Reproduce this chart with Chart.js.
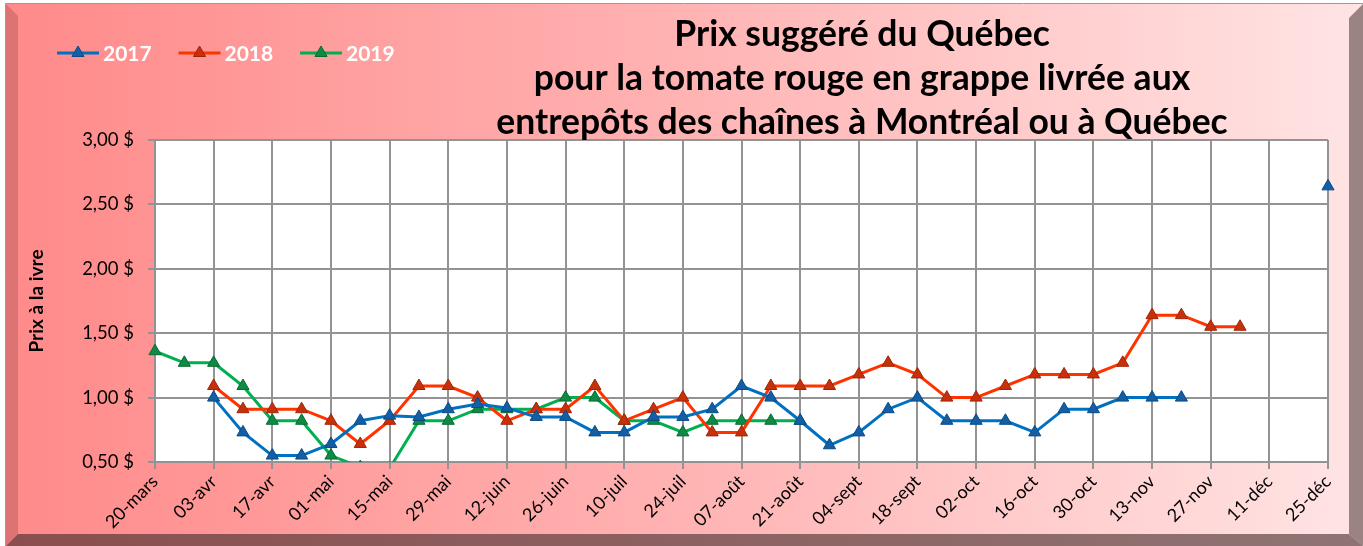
<!DOCTYPE html>
<html lang="fr">
<head>
<meta charset="utf-8">
<title>Prix suggéré du Québec</title>
<script src="https://cdn.jsdelivr.net/npm/chart.js@4.4.1/dist/chart.umd.min.js"></script>
<style>
  html, body { margin: 0; padding: 0; background: #fff; }
  canvas { display: block; }
</style>
</head>
<body>
<canvas id="prixTomate" width="1363" height="546"></canvas>
<script>
// semaines (une étiquette sur deux est affichée sur l'axe)
var semaines = ["20-mars", "27-mars", "03-avr", "10-avr", "17-avr", "24-avr", "01-mai", "08-mai",
  "15-mai", "22-mai", "29-mai", "05-juin", "12-juin", "19-juin", "26-juin", "03-juil", "10-juil",
  "17-juil", "24-juil", "31-juil", "07-août", "14-août", "21-août", "28-août", "04-sept", "11-sept",
  "18-sept", "25-sept", "02-oct", "09-oct", "16-oct", "23-oct", "30-oct", "06-nov", "13-nov",
  "20-nov", "27-nov", "04-déc", "11-déc", "18-déc", "25-déc"];

var prix2017 = [null, null, 1.00, 0.73, 0.55, 0.55, 0.64, 0.82, 0.86, 0.85, 0.91, 0.95, 0.92,
  0.85, 0.85, 0.73, 0.73, 0.85, 0.85, 0.91, 1.09, 1.00, 0.82, 0.63, 0.73, 0.91, 1.00, 0.82,
  0.82, 0.82, 0.73, 0.91, 0.91, 1.00, 1.00, 1.00, null, null, null, null, 2.64];

var prix2018 = [null, null, 1.09, 0.91, 0.91, 0.91, 0.82, 0.64, 0.82, 1.09, 1.09, 1.00, 0.82,
  0.91, 0.91, 1.09, 0.82, 0.91, 1.00, 0.73, 0.73, 1.09, 1.09, 1.09, 1.18, 1.27, 1.18, 1.00,
  1.00, 1.09, 1.18, 1.18, 1.18, 1.27, 1.64, 1.64, 1.55, 1.55, null, null, null];

var prix2019 = [1.36, 1.27, 1.27, 1.09, 0.82, 0.82, 0.55, 0.46, 0.45, 0.82, 0.82, 0.91, 0.91,
  0.91, 1.00, 1.00, 0.82, 0.82, 0.73, 0.82, 0.82, 0.82, 0.82, null, null, null, null, null,
  null, null, null, null, null, null, null, null, null, null, null, null, null];

var annees = ["2017", "2018", "2019"];
var couleursLigne = ["#0070c0", "#ff3300", "#00b050"];
var couleursPoint = ["#135ea5", "#c8300c", "#0f8a44"];
var couleursBord = ["#0b4a85", "#9e2606", "#0a6a33"];

var titreLignes = ["Prix suggéré du Québec",
  "pour la tomate rouge en grappe livrée aux",
  "entrepôts des chaînes à Montréal ou à Québec"];
var titreAxeY = "Prix à la ivre";

var police = "Lato, 'Open Sans', sans-serif";
var gris = "#939393";

function serie(i, valeurs) {
  return {
    label: annees[i],
    data: valeurs,
    borderColor: couleursLigne[i],
    backgroundColor: couleursPoint[i],
    borderWidth: 3,
    pointStyle: "triangle",
    pointRadius: 7,
    pointHoverRadius: 7,
    pointBackgroundColor: couleursPoint[i],
    pointBorderColor: couleursBord[i],
    pointBorderWidth: 1,
    spanGaps: false,
    tension: 0,
    clip: { left: 12, top: 12, right: 12, bottom: 0 }
  };
}

// fond rose avec cadre biseauté + zone de tracé blanche
var fond = {
  id: "fond",
  beforeDraw: function(chart) {
    var ctx = chart.ctx;
    var a = chart.chartArea;
    var w = chart.width, h = chart.height;
    ctx.save();
    ctx.fillStyle = "#ffffff";
    ctx.fillRect(0, 0, w, h);
    var grad = ctx.createLinearGradient(6, 0, w - 3, 0);
    grad.addColorStop(0, "#ff8a8a");
    grad.addColorStop(0.5, "#ffb3b3");
    grad.addColorStop(1, "#ffe4e4");
    ctx.fillStyle = grad;
    ctx.fillRect(6, 4, w - 6, h - 4);
    ctx.fillStyle = "#de7373";
    ctx.beginPath();
    ctx.moveTo(6, 4); ctx.lineTo(18, 16); ctx.lineTo(18, h - 12); ctx.lineTo(6, h);
    ctx.closePath(); ctx.fill();
    ctx.fillStyle = "#9c8383";
    ctx.beginPath();
    ctx.moveTo(w, 4); ctx.lineTo(w - 14, 18); ctx.lineTo(w - 14, h - 12); ctx.lineTo(w, h);
    ctx.closePath(); ctx.fill();
    var gradBas = ctx.createLinearGradient(6, 0, w, 0);
    gradBas.addColorStop(0, "#8a4e4e");
    gradBas.addColorStop(1, "#8f7474");
    ctx.fillStyle = gradBas;
    ctx.beginPath();
    ctx.moveTo(6, h); ctx.lineTo(18, h - 12); ctx.lineTo(w - 14, h - 12); ctx.lineTo(w, h);
    ctx.closePath(); ctx.fill();
    ctx.strokeStyle = "#9a9a9a";
    ctx.lineWidth = 1;
    ctx.beginPath();
    ctx.moveTo(5.5, h); ctx.lineTo(5.5, 3.5); ctx.lineTo(w, 3.5);
    ctx.stroke();
    ctx.fillStyle = "#ffffff";
    ctx.fillRect(a.left, a.top, a.right - a.left, a.bottom - a.top);
    ctx.restore();
  }
};

// titre sur trois lignes et légende en haut à gauche
var entete = {
  id: "entete",
  afterDraw: function(chart) {
    var ctx = chart.ctx;
    ctx.save();
    ctx.font = "bold 30px " + police;
    var taille = 30 * 731 / ctx.measureText(titreLignes[2]).width;
    ctx.font = "bold " + taille.toFixed(1) + "px " + police;
    ctx.fillStyle = "#000000";
    ctx.textAlign = "center";
    ctx.textBaseline = "alphabetic";
    titreLignes.forEach(function(t, i) {
      ctx.fillText(t, 862, 46 + i * 44);
    });

    chart.data.datasets.forEach(function(ds, i) {
      var x = 57 + i * 121.5, y = 53;
      ctx.strokeStyle = ds.borderColor;
      ctx.lineWidth = 3;
      ctx.beginPath();
      ctx.moveTo(x, y); ctx.lineTo(x + 42, y);
      ctx.stroke();
      var r = 7, cx = x + 21;
      ctx.fillStyle = ds.pointBackgroundColor;
      ctx.strokeStyle = ds.pointBorderColor;
      ctx.lineWidth = 1;
      ctx.beginPath();
      ctx.moveTo(cx, y - r);
      ctx.lineTo(cx + r * 0.866, y + r / 2);
      ctx.lineTo(cx - r * 0.866, y + r / 2);
      ctx.closePath();
      ctx.fill(); ctx.stroke();
      ctx.fillStyle = "#ffffff";
      ctx.font = "bold 21px " + police;
      ctx.textAlign = "left";
      ctx.textBaseline = "middle";
      ctx.fillText(ds.label, x + 46, y + 1);
    });
    ctx.restore();
  }
};

var graphPrix = new Chart(document.getElementById("prixTomate"), {
  type: "line",
  data: {
    labels: semaines,
    datasets: [serie(0, prix2017), serie(1, prix2018), serie(2, prix2019)]
  },
  options: {
    responsive: false,
    animation: false,
    layout: { padding: { left: 0, right: 35, top: 140, bottom: 0 } },
    plugins: {
      legend: { display: false },
      title: { display: false },
      tooltip: { enabled: false }
    },
    scales: {
      x: {
        type: "category",
        afterBuildTicks: function(axis) {
          axis.ticks = axis.ticks.filter(function(t) { return t.value % 2 === 0; });
        },
        afterFit: function(scale) { scale.height = 84; },
        grid: { color: gris, lineWidth: 2, tickLength: 7, drawOnChartArea: true },
        border: { color: gris, width: 2 },
        ticks: {
          autoSkip: false,
          minRotation: 45,
          maxRotation: 45,
          padding: 2,
          color: "#000000",
          font: { family: police, size: 18 }
        }
      },
      y: {
        min: 0.5,
        max: 3,
        afterFit: function(scale) { scale.width = 155; },
        grid: { color: gris, lineWidth: 2, tickLength: 7 },
        border: { color: gris, width: 2 },
        ticks: {
          stepSize: 0.5,
          padding: 14,
          color: "#000000",
          font: { family: police, size: 18.5 },
          callback: function(v) { return v.toFixed(2).replace(".", ",") + " $"; }
        },
        title: {
          display: true,
          text: titreAxeY,
          color: "#000000",
          font: { family: police, size: 19, weight: "bold" },
          padding: { top: 25, bottom: 0 }
        }
      }
    }
  },
  plugins: [fond, entete]
});
</script>
</body>
</html>
